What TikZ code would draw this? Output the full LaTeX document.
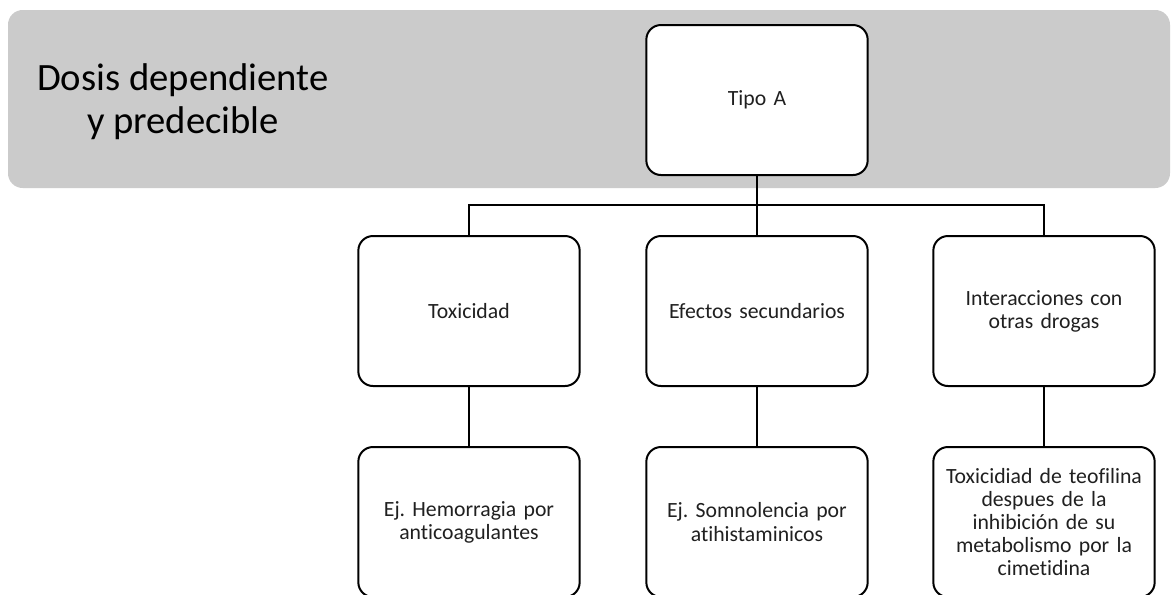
\documentclass[tikz,border=0pt]{standalone}
\usepackage{fontspec}
\setmainfont{Carlito}[Ligatures=NoCommon]
\definecolor{bandgray}{HTML}{CBCBCB}
\definecolor{txtgray}{HTML}{202020}
\frenchspacing

\begin{document}
\begin{tikzpicture}[x=0.75pt, y=-0.75pt,
    card/.style={draw=black, line width=1.5pt, fill=white, rounded corners=11pt,
        minimum width=166pt, minimum height=112.5pt, text width=150pt, align=center,
        font=\fontsize{16.3}{17.4}\selectfont, text=txtgray},
    link/.style={draw=black, line width=1.5pt}]
        \useasboundingbox (0,0) rectangle (1172,594);
        % Band
        \fill[bandgray, rounded corners=11pt] (8,10) rectangle (1170,188);
        \node[align=center, font=\fontsize{29}{32.5}\selectfont, text=black] (title) at (183,102) {Dosis dependiente\\y predecible};
        % Boxes
        \node[card] (tipo) at (757,100) {Tipo A};
        \node[card] (tox) at (469,311) {Toxicidad};
        \node[card] (efe) at (757,311) {Efectos secundarios};
        \node[card] (inter) at (1044,311) {Interacciones con\\otras drogas};
        \node[card] (ejtox) at (469,522) {Ej. Hemorragia por\\anticoagulantes};
        \node[card] (ejefe) at (757,522) {Ej. Somnolencia por\\atihistaminicos};
        \node[card] (ejinter) at (1044,522) {Toxicidiad de teofilina\\despues de la\\inhibición de su\\metabolismo por la\\cimetidina};
        % Connectors
        \coordinate (bus) at (757,205);
        \draw[link] (tipo) -- (bus);
        \draw[link] (tox.north) |- (bus) -| (inter.north);
        \draw[link] (bus) -- (efe.north);
        \draw[link] (tox) -- (ejtox);
        \draw[link] (efe) -- (ejefe);
        \draw[link] (inter) -- (ejinter);
    \end{tikzpicture}
\end{document}
